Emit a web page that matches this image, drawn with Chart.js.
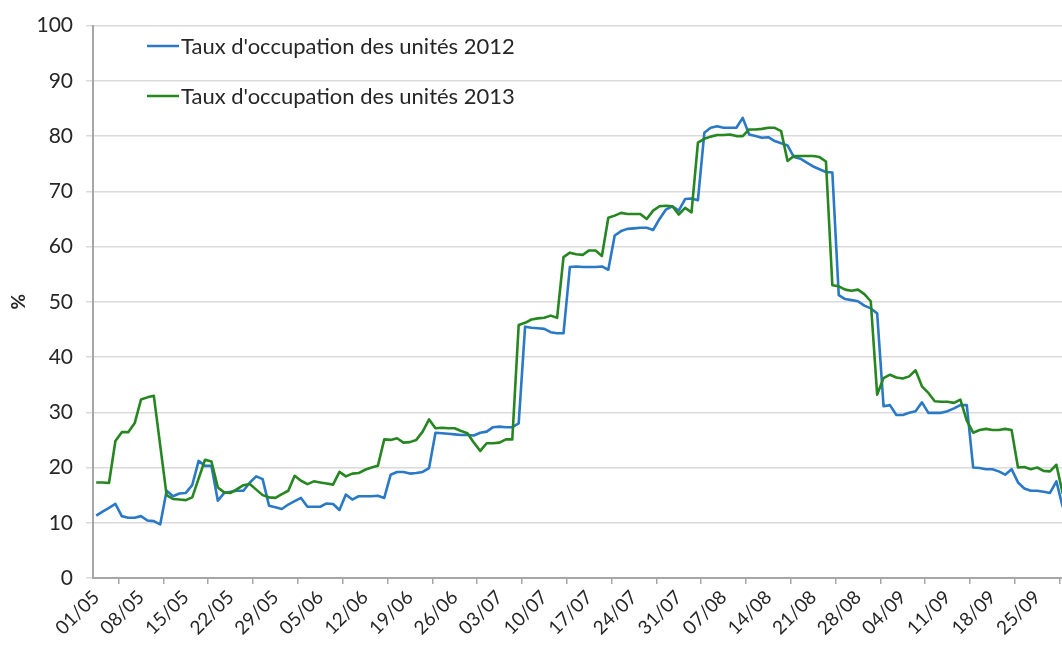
<!DOCTYPE html>
<html>
<head>
<meta charset="utf-8">
<title>Taux d'occupation des unités</title>
<script src="https://cdn.jsdelivr.net/npm/chart.js@4.4.1/dist/chart.umd.min.js"></script>
<style>
  html, body { margin: 0; padding: 0; background: #fff; overflow: hidden; }
  #wrap { width: 1062px; height: 646px; overflow: hidden; position: relative; }
  #chart { display: block; }
</style>
</head>
<body>
<div id="wrap"><canvas id="chart" width="1066" height="646"></canvas></div>
<script>
// daily values, 01/05 -> 29/09
const monthDays = [["05", 31], ["06", 30], ["07", 31], ["08", 31], ["09", 29]];
const categories = [];
monthDays.forEach(([m, n]) => {
  for (let d = 1; d <= n; d++) categories.push(String(d).padStart(2, "0") + "/" + m);
});

const tickLabels = ["01/05", "08/05", "15/05", "22/05", "29/05", "05/06", "12/06", "19/06",
  "26/06", "03/07", "10/07", "17/07", "24/07", "31/07", "07/08", "14/08", "21/08", "28/08",
  "04/09", "11/09", "18/09", "25/09"];

const seriesNames = ["Taux d'occupation des unités 2012", "Taux d'occupation des unités 2013"];

const occ2012 = [
  11.3, 12.0, 12.7, 13.4, 11.2, 10.9, 10.9, 11.2, 10.4, 10.3,
  9.7, 15.8, 14.8, 15.3, 15.4, 16.8, 21.2, 20.3, 20.3, 14.0,
  15.4, 15.6, 15.8, 15.8, 17.3, 18.4, 17.9, 13.1, 12.8, 12.5,
  13.3, 13.9, 14.5, 12.9, 12.9, 12.9, 13.5, 13.4, 12.3, 15.1,
  14.2, 14.8, 14.8, 14.8, 14.9, 14.5, 18.7, 19.2, 19.2, 18.9,
  19.0, 19.2, 19.9, 26.3, 26.2, 26.1, 26.0, 25.9, 25.9, 25.8,
  26.3, 26.5, 27.3, 27.4, 27.3, 27.3, 28.0, 45.5, 45.3, 45.2,
  45.1, 44.5, 44.3, 44.3, 56.3, 56.4, 56.3, 56.3, 56.3, 56.4,
  55.8, 62.0, 62.8, 63.2, 63.3, 63.4, 63.4, 63.0, 65.0, 66.7,
  67.3, 66.5, 68.6, 68.7, 68.4, 80.6, 81.5, 81.8, 81.5, 81.5,
  81.5, 83.3, 80.3, 80.0, 79.7, 79.8, 79.1, 78.7, 78.3, 76.2,
  75.9, 75.2, 74.5, 74.0, 73.5, 73.4, 51.2, 50.5, 50.3, 50.1,
  49.3, 48.8, 47.9, 31.1, 31.3, 29.5, 29.5, 29.9, 30.2, 31.8,
  29.9, 29.9, 29.9, 30.2, 30.7, 31.3, 31.3, 20.0, 19.9, 19.7,
  19.7, 19.3, 18.7, 19.7, 17.3, 16.2, 15.8, 15.8, 15.6, 15.4,
  17.5, 12.8
];

const occ2013 = [
  17.3, 17.3, 17.2, 24.8, 26.4, 26.4, 28.0, 32.3, 32.7, 33.0,
  24.0, 15.0, 14.3, 14.2, 14.1, 14.6, 18.0, 21.4, 21.1, 16.4,
  15.5, 15.4, 16.1, 16.8, 17.0, 16.0, 15.0, 14.6, 14.5, 15.2,
  15.8, 18.5, 17.6, 17.0, 17.5, 17.3, 17.1, 16.9, 19.2, 18.4,
  18.9, 19.0, 19.6, 20.0, 20.3, 25.1, 25.0, 25.3, 24.5, 24.6,
  25.0, 26.5, 28.7, 27.1, 27.2, 27.1, 27.1, 26.6, 26.2, 24.5,
  23.0, 24.4, 24.4, 24.5, 25.1, 25.1, 45.8, 46.2, 46.8, 47.0,
  47.1, 47.5, 47.1, 58.1, 58.9, 58.6, 58.5, 59.3, 59.3, 58.3,
  65.2, 65.6, 66.1, 65.9, 65.9, 65.9, 65.0, 66.5, 67.3, 67.4,
  67.3, 65.8, 67.0, 66.2, 78.8, 79.5, 79.9, 80.2, 80.2, 80.3,
  80.0, 80.0, 81.2, 81.2, 81.3, 81.5, 81.5, 80.9, 75.5, 76.4,
  76.4, 76.4, 76.4, 76.2, 75.4, 53.0, 52.8, 52.2, 52.0, 52.2,
  51.4, 50.1, 33.2, 36.2, 36.8, 36.3, 36.1, 36.5, 37.6, 34.7,
  33.5, 32.0, 31.9, 31.9, 31.7, 32.3, 28.5, 26.3, 26.8, 27.0,
  26.8, 26.8, 27.0, 26.8, 20.0, 20.1, 19.7, 20.0, 19.4, 19.3,
  20.5, 15.2
];

const textColor = "#262626";
const fontFamily = "Lato, 'Open Sans', sans-serif";

// legend drawn inside the plot, top left
const insideLegend = {
  id: "insideLegend",
  afterDraw(chart) {
    const ctx = chart.ctx;
    chart.data.datasets.forEach((ds, i) => {
      const y = 46 + i * 50;
      ctx.save();
      ctx.strokeStyle = ds.borderColor;
      ctx.lineWidth = 2.5;
      ctx.beginPath();
      ctx.moveTo(147, y);
      ctx.lineTo(179, y);
      ctx.stroke();
      ctx.fillStyle = textColor;
      ctx.font = "22px " + fontFamily;
      ctx.textBaseline = "middle";
      ctx.fillText(ds.label, 181, y + 1);
      ctx.restore();
    });
  }
};

new Chart(document.getElementById("chart"), {
  type: "line",
  data: {
    labels: categories,
    datasets: [
      {
        label: seriesNames[0],
        data: occ2012,
        borderColor: "#2979c6",
        borderWidth: 2.6,
        pointRadius: 0,
        tension: 0,
        borderJoinStyle: "round",
        order: 1
      },
      {
        label: seriesNames[1],
        data: occ2013,
        borderColor: "#268620",
        borderWidth: 2.6,
        pointRadius: 0,
        tension: 0,
        borderJoinStyle: "round",
        order: 0
      }
    ]
  },
  options: {
    responsive: false,
    animation: false,
    layout: { padding: { top: 22, right: 0, bottom: 0, left: 0 } },
    plugins: {
      legend: { display: false },
      tooltip: { enabled: false }
    },
    scales: {
      x: {
        type: "category",
        offset: true,
        afterFit: s => { s.height = 68; },
        grid: {
          offset: true,
          drawOnChartArea: false,
          drawTicks: true,
          tickLength: 6,
          color: "#a6a6a6",
          lineWidth: 1.5
        },
        border: { color: "#a6a6a6", width: 2 },
        ticks: {
          autoSkip: false,
          minRotation: 45,
          maxRotation: 45,
          padding: 2,
          color: textColor,
          font: { family: fontFamily, size: 19 },
          callback: function (value) {
            const lab = this.getLabelForValue(value);
            return tickLabels.includes(lab) ? lab : null;
          }
        }
      },
      y: {
        min: 0,
        max: 100,
        afterFit: s => { s.width = 93; },
        grid: {
          color: "#dadada",
          lineWidth: 1.5,
          drawTicks: true,
          tickLength: 7
        },
        border: { color: "#a6a6a6", width: 2 },
        ticks: {
          stepSize: 10,
          padding: 13,
          color: textColor,
          font: { family: fontFamily, size: 21 }
        },
        title: {
          display: true,
          text: "%",
          color: textColor,
          font: { family: fontFamily, size: 19, weight: "bold" },
          padding: { top: 7, bottom: 0 }
        }
      }
    }
  },
  plugins: [insideLegend]
});
</script>
</body>
</html>
